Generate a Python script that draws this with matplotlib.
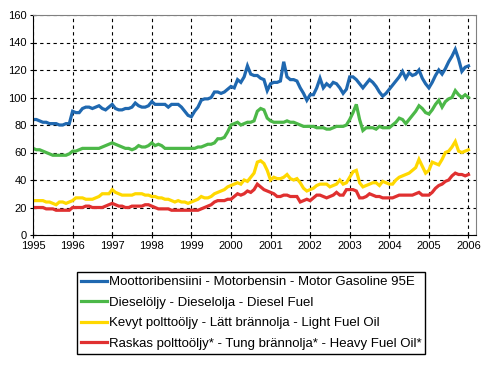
import matplotlib
matplotlib.use("Agg")
import matplotlib.pyplot as plt
import numpy as np

plt.rcParams['font.family'] = ['Liberation Sans', 'DejaVu Sans']

# monthly values, Jan 1995 .. Jan 2006
gasoline = [84, 84, 83, 82, 82, 81, 81, 81, 80, 80, 81, 81,
            90, 89, 89, 92, 93, 93, 92, 93, 94, 92, 91, 93,
            95, 92, 91, 91, 92, 92, 93, 96, 94, 93, 93, 94,
            97, 95, 95, 95, 95, 93, 95, 95, 95, 93, 90, 87,
            86, 90, 93, 98, 99, 99, 100, 104, 104, 103, 104, 106,
            108, 107, 113, 111, 115, 123, 117, 116, 116, 114, 113, 105,
            110, 111, 111, 112, 126, 115, 113, 113, 112, 107, 103, 98,
            102, 102, 107, 114, 107, 110, 108, 111, 110, 107, 103, 106,
            115, 115, 113, 110, 107, 110, 113, 111, 108, 104, 101, 103,
            106, 109, 112, 115, 119, 114, 118, 116, 117, 120, 114, 110,
            107, 111, 116, 120, 117, 121, 126, 130, 135, 128, 119, 122,
            123]
diesel = [63, 62, 62, 61, 60, 59, 58, 58, 58, 58, 58, 59,
          61, 61, 62, 63, 63, 63, 63, 63, 63, 64, 65, 66,
          67, 66, 65, 64, 63, 63, 62, 63, 65, 64, 64, 65,
          67, 65, 66, 65, 63, 63, 63, 63, 63, 63, 63, 63,
          63, 63, 64, 64, 65, 66, 66, 67, 70, 70, 71, 75,
          80, 81, 82, 80, 81, 82, 82, 83, 90, 92, 91, 85,
          83, 82, 82, 82, 82, 83, 82, 82, 81, 80, 79, 79,
          79, 79, 78, 78, 78, 77, 77, 78, 79, 79, 79, 80,
          84, 89, 95, 84, 76, 78, 78, 78, 77, 79, 78, 78,
          78, 80, 82, 85, 84, 81, 84, 87, 90, 94, 92, 89,
          88, 91, 95, 98, 93, 97, 99, 100, 105, 102, 100, 102,
          100]
light_oil = [25, 25, 25, 25, 24, 24, 23, 22, 24, 24, 23, 24,
             25, 27, 27, 27, 26, 26, 26, 27, 28, 30, 30, 30,
             33, 31, 30, 29, 29, 29, 29, 30, 30, 30, 29, 29,
             28, 28, 27, 27, 26, 26, 25, 24, 25, 24, 24, 23,
             24, 25, 26, 28, 27, 27, 28, 30, 31, 32, 33, 35,
             36, 37, 38, 37, 40, 39, 42, 45, 53, 54, 52, 47,
             40, 42, 41, 41, 42, 44, 41, 40, 41, 38, 34, 32,
             33, 34, 36, 37, 37, 37, 35, 36, 37, 40, 37, 38,
             42, 46, 47, 38, 35, 36, 37, 38, 38, 36, 39, 38,
             37, 37, 40, 42, 43, 44, 45, 47, 49, 55, 50, 45,
             47, 53, 52, 51, 55, 60, 61, 64, 68, 61, 60, 61,
             62]
heavy_oil = [20, 20, 20, 20, 19, 19, 19, 18, 18, 18, 18, 18,
             20, 20, 20, 20, 21, 21, 20, 20, 20, 20, 21, 22,
             23, 22, 21, 21, 20, 20, 21, 21, 21, 21, 22, 22,
             21, 20, 19, 19, 19, 19, 18, 18, 18, 18, 18, 18,
             18, 18, 18, 19, 20, 21, 22, 24, 25, 25, 25, 26,
             26, 28, 30, 29, 30, 32, 31, 33, 37, 35, 33, 32,
             31, 30, 28, 28, 29, 29, 28, 28, 28, 24, 25, 26,
             25, 27, 29, 29, 28, 27, 28, 29, 31, 29, 29, 33,
             33, 33, 32, 27, 27, 28, 30, 29, 28, 28, 27, 27,
             27, 27, 28, 29, 29, 29, 29, 29, 30, 31, 29, 29,
             29, 31, 34, 36, 37, 39, 40, 43, 45, 44, 44, 43,
             44]

labels = ["Moottoribensiini - Motorbensin - Motor Gasoline 95E",
          "Dieselöljy - Dieselolja - Diesel Fuel",
          "Kevyt polttoöljy - Lätt brännolja - Light Fuel Oil",
          "Raskas polttoöljy* - Tung brännolja* - Heavy Fuel Oil*"]
colors = ["#1f68b0", "#4cb848", "#ffd800", "#e03030"]
years = list(range(1995, 2007))

t = 1995 + np.arange(len(gasoline)) / 12.0

fig = plt.figure(figsize=(4.97, 3.66), dpi=100)
ax = fig.add_axes([33/497, 1 - 235/366, (476-33)/497, 220/366])

for series, lab, c in zip([gasoline, diesel, light_oil, heavy_oil], labels, colors):
    ax.plot(t, series, color=c, lw=2.3, label=lab, solid_joinstyle='miter')

ax.set_xlim(1995, 2006.19)
ax.set_ylim(0, 160)
ax.set_xticks(years)
ax.set_yticks(range(0, 161, 20))
ax.tick_params(direction='inout', length=5, width=0.8, labelsize=8, pad=2)
ax.grid(True, color='black', linestyle=(0, (3, 3)), linewidth=0.8)
ax.spines['top'].set_color('#808080')
ax.spines['right'].set_color('#808080')

fig.legend(loc='upper center', bbox_to_anchor=(0.505, 0.257), fontsize=9.5,
           frameon=True, fancybox=False, edgecolor='black', framealpha=1,
           handlelength=2.0, labelspacing=0.63, handletextpad=0.1,
           borderpad=0.3, borderaxespad=0)

fig.savefig("out.png", dpi=100)
